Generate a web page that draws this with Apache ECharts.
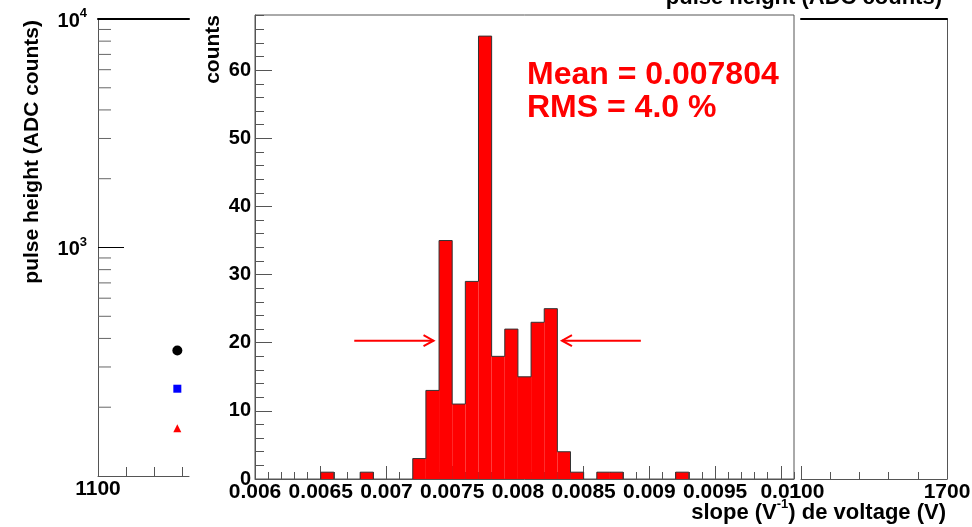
<!DOCTYPE html>
<html><head><meta charset="utf-8">
<script src="https://cdn.jsdelivr.net/npm/echarts@6/dist/echarts.min.js"></script>
<style>html,body{margin:0;padding:0;background:#fff}#c{width:972px;height:527px}</style>
</head><body><div id="c"></div>
<script>
// ---- data ----
const binWidth = 0.0001;
const binStarts = [0.0065,0.0068,0.0072,0.0073,0.0074,0.0075,0.0076,0.0077,0.0078,0.0079,0.0080,0.0081,0.0082,0.0083,0.0084,0.0086,0.0087,0.0092];
const binCounts = [1,1,3,13,35,11,29,65,18,22,15,23,25,4,1,1,1,1];
const slopeTicks = [0.006,0.0065,0.007,0.0075,0.008,0.0085,0.009,0.0095,0.01];
const countTicks = [0,10,20,30,40,50,60];
const arrowTails = [0.006755, 0.008935];
const arrowHeads = [0.007358, 0.008335];
const arrowLevels = [20.3, 20.3];
const phVoltage = [1440, 1440, 1440];
const phValues = [354, 241, 162];
const phMajorTicks = [1000];
const phMinorTicks = [200,300,400,500,600,700,800,900,2000,3000,4000,5000,6000,7000,8000,9000];
const voltLeftTicks = [1220, 1340, 1460];
const voltLeftLabels = [1100];
const voltMajorTicks = [1100, 1700];
const voltMinorTicks = [1220, 1340, 1460, 1580];
const meanText = 'Mean = 0.007804';
const rmsText = 'RMS = 4.0 %';

// ---- styles ----
const FF = '"Liberation Sans", Arial, Helvetica, sans-serif';
const AX = '#555';
const lab = {fontFamily: FF, fontWeight: 'bold', fontSize: 20, color: '#000'};
const xlab = {fontFamily: FF, fontWeight: 'bold', fontSize: 21, color: '#000'};
const markerStyles = [
  {symbol: 'circle', color: '#000', size: 10},
  {symbol: 'rect', color: '#0000ff', size: 8},
  {symbol: 'triangle', color: '#ff0000', size: 8}
];
const noGrid = {containLabel: false, outerBoundsMode: 'none'};
const plain = v => String(Math.round(v));

function countAt(k) {
  const j = binStarts.findIndex(s => Math.round(s / binWidth) === k);
  return j < 0 ? 0 : binCounts[j];
}

function tickRenderer(len, color) {
  return function (params, api) {
    const p = api.coord([api.value(0), api.value(1)]);
    return {type: 'line', shape: {x1: p[0], y1: p[1], x2: p[0] + len, y2: p[1]},
            style: {stroke: color, lineWidth: 1}};
  };
}

const chart = echarts.init(document.getElementById('c'), null, {renderer: 'canvas'});
chart.setOption({
  animation: false,
  backgroundColor: '#fff',
  grid: [
    Object.assign({left: 98, top: 19, width: 91, height: 457}, noGrid),
    Object.assign({left: 255, top: 15, width: 539, height: 464, show: true, borderColor: AX, borderWidth: 1, backgroundColor: 'transparent'}, noGrid),
    Object.assign({left: 801, top: 19, width: 146, height: 460}, noGrid)
  ],
  xAxis: [
    {gridIndex: 0, type: 'value', min: 1100, max: 1490, position: 'bottom',
     axisLine: {onZero: false, lineStyle: {color: AX}},
     axisTick: {inside: true, length: 9, customValues: voltLeftTicks, lineStyle: {color: AX}},
     axisLabel: Object.assign({customValues: voltLeftLabels, margin: 3, formatter: plain}, xlab),
     splitLine: {show: false}},
    {gridIndex: 0, type: 'value', min: 1100, max: 1490, position: 'top',
     axisLine: {onZero: false, lineStyle: {color: '#000', width: 2}},
     axisTick: {show: false}, axisLabel: {show: false}, splitLine: {show: false}},
    {gridIndex: 1, type: 'value', min: 0.006, max: 0.0101, position: 'bottom',
     axisLine: {onZero: false, lineStyle: {color: AX}},
     axisTick: {inside: true, length: 13, customValues: slopeTicks, lineStyle: {color: AX}},
     axisLabel: Object.assign({customValues: slopeTicks, margin: 3,
       formatter: v => String(parseFloat(v.toFixed(4)))}, xlab),
     splitLine: {show: false}},
    {gridIndex: 1, type: 'value', min: 0.006, max: 0.0101, interval: 0.0001, position: 'bottom',
     axisLine: {show: false},
     axisTick: {inside: true, length: 7, lineStyle: {color: AX}},
     axisLabel: {show: false}, splitLine: {show: false}},
    {gridIndex: 2, type: 'value', min: 1100, max: 1700, position: 'bottom',
     axisLine: {onZero: false, lineStyle: {color: AX}},
     axisTick: {inside: true, length: 13, customValues: voltMajorTicks, lineStyle: {color: AX}},
     axisLabel: Object.assign({customValues: voltMajorTicks, margin: 3,
       formatter: function (v) {
         const s = plain(v);
         return v === voltMajorTicks[0] ? '{h|' + s.slice(0, 1) + '}' + s.slice(1) : s;
       },
       rich: {h: {fontFamily: FF, fontWeight: 'bold', fontSize: 21, color: 'rgba(0,0,0,0)'}}}, xlab),
     splitLine: {show: false}},
    {gridIndex: 2, type: 'value', min: 1100, max: 1700, position: 'bottom',
     axisLine: {show: false},
     axisTick: {inside: true, length: 7, customValues: voltMinorTicks, lineStyle: {color: AX}},
     axisLabel: {show: false}, splitLine: {show: false}},
    {gridIndex: 2, type: 'value', min: 1100, max: 1700, position: 'top',
     axisLine: {onZero: false, lineStyle: {color: '#000', width: 2}},
     axisTick: {show: false}, axisLabel: {show: false}, splitLine: {show: false}}
  ],
  yAxis: [
    {gridIndex: 0, type: 'log', logBase: 10, min: 100, max: 10000, position: 'left',
     axisLine: {onZero: false, lineStyle: {color: AX}},
     axisTick: {show: false},
     axisLabel: {margin: 11, color: '#000',
       formatter: function (v) {
         const e = Math.log10(v), r = Math.round(e);
         if (Math.abs(e - r) < 1e-6 && r >= 3) return '{b|10}{s|' + r + '}';
         return '';
       },
       rich: {
         b: {fontFamily: FF, fontWeight: 'bold', fontSize: 20, color: '#000', lineHeight: 24, verticalAlign: 'bottom'},
         s: {fontFamily: FF, fontWeight: 'bold', fontSize: 13, color: '#000', lineHeight: 24, verticalAlign: 'top'}
       }},
     splitLine: {show: false}},
    {gridIndex: 1, type: 'value', min: 0, max: 68.1, position: 'left',
     axisLine: {onZero: false, lineStyle: {color: AX}},
     axisTick: {inside: true, length: 17, customValues: countTicks, lineStyle: {color: AX}},
     axisLabel: Object.assign({customValues: countTicks, margin: 4}, lab),
     splitLine: {show: false}},
    {gridIndex: 1, type: 'value', min: 0, max: 68.1, interval: 2, position: 'left',
     axisLine: {show: false},
     axisTick: {inside: true, length: 9, lineStyle: {color: AX}},
     axisLabel: {show: false}, splitLine: {show: false}},
    {gridIndex: 2, type: 'value', min: 0, max: 1, position: 'right',
     axisLine: {onZero: false, lineStyle: {color: AX}},
     axisTick: {show: false}, axisLabel: {show: false}, splitLine: {show: false}}
  ],
  series: [
    {type: 'scatter', xAxisIndex: 0, yAxisIndex: 0, silent: true,
     data: phVoltage.map((x, i) => ({value: [x, phValues[i]], symbol: markerStyles[i].symbol,
       symbolSize: markerStyles[i].size, itemStyle: {color: markerStyles[i].color, opacity: 1}}))},
    {type: 'custom', xAxisIndex: 0, yAxisIndex: 0, silent: true,
     data: phMinorTicks.map(v => [1100, v]), encode: {x: 0, y: 1},
     renderItem: tickRenderer(13, '#666')},
    {type: 'custom', xAxisIndex: 0, yAxisIndex: 0, silent: true,
     data: phMajorTicks.map(v => [1100, v]), encode: {x: 0, y: 1},
     renderItem: tickRenderer(26, '#000')},
    {type: 'custom', xAxisIndex: 2, yAxisIndex: 1, silent: true,
     data: binStarts.map((s, i) => [s, binCounts[i]]), encode: {x: 0, y: 1},
     renderItem: function (params, api) {
       const x0 = api.value(0), c = api.value(1);
       const k = Math.round(x0 / binWidth);
       const prev = countAt(k - 1), next = countAt(k + 1);
       const pt = api.coord([x0, c]);
       const pb = api.coord([x0 + binWidth, 0]);
       const yPrev = api.coord([x0, prev])[1];
       const pts = [[pt[0], yPrev], [pt[0], pt[1]], [pb[0], pt[1]]];
       if (next === 0) pts.push([pb[0], pb[1]]);
       return {type: 'group', children: [
         {type: 'rect', shape: {x: pt[0], y: pt[1], width: pb[0] - pt[0], height: pb[1] - pt[1]},
          style: {fill: '#ff0000'}},
         {type: 'polyline', shape: {points: pts}, style: {stroke: '#333', lineWidth: 1, fill: null}}
       ]};
     }},
    {type: 'custom', xAxisIndex: 2, yAxisIndex: 1, silent: true,
     data: arrowTails.map((t, i) => [t, arrowHeads[i], arrowLevels[i]]), encode: {x: [0, 1], y: 2},
     renderItem: function (params, api) {
       const t = api.coord([api.value(0), api.value(2)]);
       const h = api.coord([api.value(1), api.value(2)]);
       const d = Math.sign(h[0] - t[0]);
       return {type: 'group', children: [
         {type: 'line', shape: {x1: t[0], y1: t[1], x2: h[0], y2: h[1]}, style: {stroke: '#ff0000', lineWidth: 2}},
         {type: 'polyline', shape: {points: [[h[0] - d * 10, h[1] - 5.5], [h[0], h[1]], [h[0] - d * 10, h[1] + 5.5]]},
          style: {stroke: '#ff0000', lineWidth: 2, fill: null}}
       ]};
     }}
  ],
  graphic: [
    {type: 'text', x: 527, y: 75, silent: true,
     style: {text: meanText, fill: '#ff0000', font: 'bold 32px ' + FF, align: 'left', verticalAlign: 'middle'}},
    {type: 'text', x: 527, y: 108, silent: true,
     style: {text: rmsText, fill: '#ff0000', font: 'bold 32px ' + FF, align: 'left', verticalAlign: 'middle'}},
    {type: 'text', x: 213, y: 15, rotation: Math.PI / 2, silent: true,
     style: {text: 'counts', fill: '#000', font: 'bold 21px ' + FF, align: 'right', verticalAlign: 'middle'}},
    {type: 'text', x: 32, y: 20, rotation: Math.PI / 2, silent: true,
     style: {text: 'pulse height (ADC counts)', fill: '#000', font: 'bold 21px ' + FF, align: 'right', verticalAlign: 'middle'}},
    {type: 'text', x: 942, y: -2, silent: true,
     style: {text: 'pulse height (ADC counts)', fill: '#000', font: 'bold 22px ' + FF, align: 'right', verticalAlign: 'middle'}},
    {type: 'text', x: 946, y: 511, silent: true,
     style: {text: '{b|slope (V}{s|-1}{b|) de voltage (V)}', fill: '#000', align: 'right', verticalAlign: 'middle',
       rich: {
         b: {font: 'bold 22px ' + FF, fill: '#000', lineHeight: 26, verticalAlign: 'bottom'},
         s: {font: 'bold 13px ' + FF, fill: '#000', lineHeight: 26, verticalAlign: 'top'}
       }}}
  ]
});
</script>
</body></html>
